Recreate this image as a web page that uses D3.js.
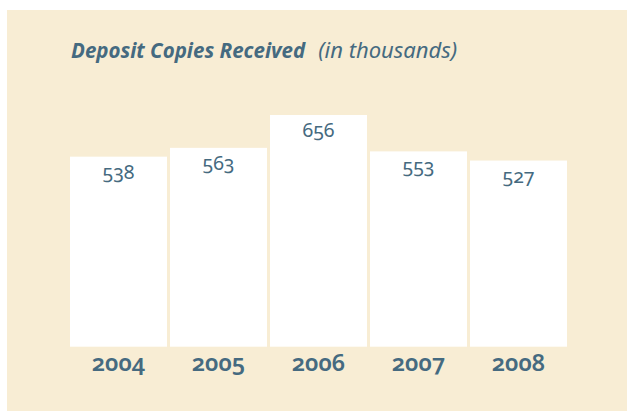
<!DOCTYPE html>
<html>
<head>
<meta charset="utf-8">
<script src="https://cdn.jsdelivr.net/npm/d3@7"></script>
<style>
  body { margin: 0; background: #fff; }
  text { font-family: "Noto Sans", sans-serif; font-variant-numeric: oldstyle-nums; }
</style>
</head>
<body>
<div id="chart"></div>
<script>
const years = ["2004", "2005", "2006", "2007", "2008"];
const copies = [538, 563, 656, 553, 527];

const W = 627, H = 411;
const ink = "#456a80";

const svg = d3.select("#chart")
    .append("svg")
    .attr("width", W)
    .attr("height", H);

// beige panel
svg.append("rect")
    .attr("x", 7)
    .attr("y", 10)
    .attr("width", W - 7)
    .attr("height", H - 10)
    .attr("fill", "#f8edd4");

const x = d3.scaleBand()
    .domain(years)
    .range([70, 567])
    .paddingInner(0.03)
    .paddingOuter(0);

const y = d3.scaleLinear()
    .domain([0, 656])
    .range([346.7, 115]);

svg.selectAll(".bar")
    .data(copies)
    .join("rect")
    .attr("class", "bar")
    .attr("x", (d, i) => x(years[i]))
    .attr("width", x.bandwidth())
    .attr("y", d => y(d))
    .attr("height", d => y(0) - y(d))
    .attr("fill", "#fff");

svg.selectAll(".val")
    .data(copies)
    .join("text")
    .attr("class", "val")
    .attr("x", (d, i) => x(years[i]) + x.bandwidth() / 2)
    .attr("y", d => y(d) + 22)
    .attr("text-anchor", "middle")
    .attr("font-size", 19.5)
    .attr("fill", ink)
    .text(d => d);

// year labels along the bottom
const xAxis = svg.append("g")
    .attr("transform", `translate(0,${y(0)})`)
    .call(d3.axisBottom(x).tickSize(0).tickPadding(0));
xAxis.select(".domain").remove();
xAxis.selectAll("text")
    .attr("dy", null)
    .attr("y", 24)
    .attr("font-family", "Noto Sans, sans-serif")
    .attr("font-size", 23.5)
    .attr("font-weight", 600)
    .attr("fill", ink);

// title
const title = svg.append("text")
    .attr("x", 71)
    .attr("y", 58)
    .attr("fill", ink)
    .attr("font-size", 20.5);
title.append("tspan")
    .attr("font-weight", "bold")
    .attr("font-style", "italic")
    .text("Deposit Copies Received");
title.append("tspan")
    .attr("font-style", "italic")
    .attr("font-size", 22)
    .attr("dx", 13)
    .text("(in thousands)");
</script>
</body>
</html>
